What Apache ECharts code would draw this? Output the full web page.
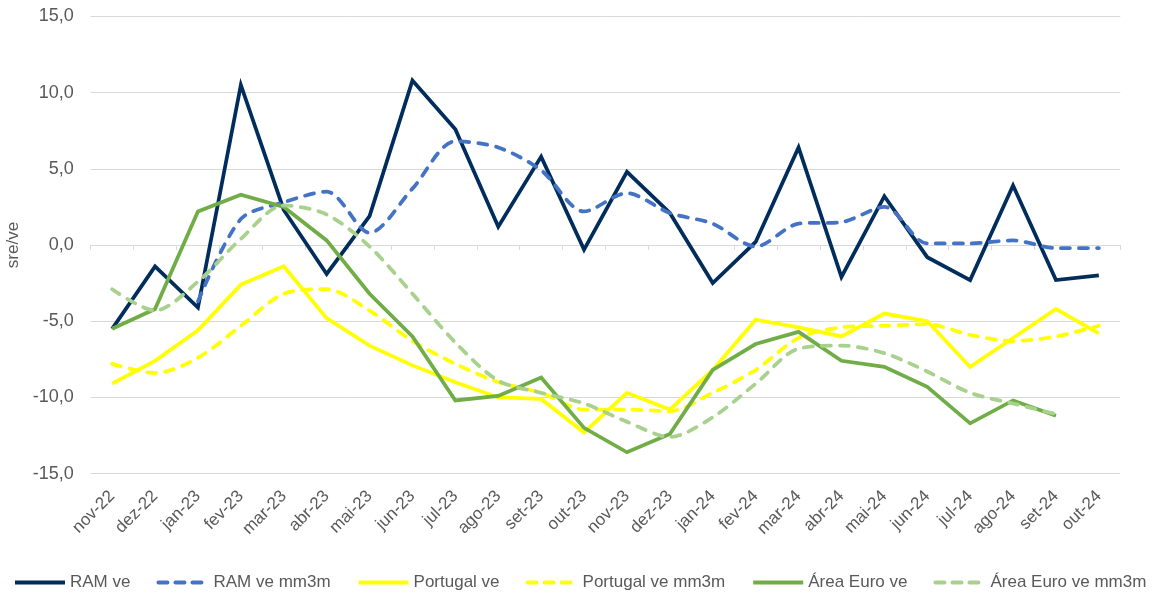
<!DOCTYPE html>
<html>
<head>
<meta charset="utf-8">
<script src="https://cdn.jsdelivr.net/npm/echarts@6/dist/echarts.min.js"></script>
<style>
html,body{margin:0;padding:0;background:#fff;}
#chart{width:1159px;height:593px;}
</style>
</head>
<body>
<div id="chart"></div>
<script>
const categories = ['nov-22','dez-22','jan-23','fev-23','mar-23','abr-23','mai-23','jun-23','jul-23','ago-23','set-23','out-23','nov-23','dez-23','jan-24','fev-24','mar-24','abr-24','mai-24','jun-24','jul-24','ago-24','set-24','out-24'];

const ramVe = [-5.5,-1.4,-4.1,10.5,2.3,-1.9,1.9,10.8,7.6,1.2,5.8,-0.3,4.8,2.1,-2.5,0.2,6.4,-2.1,3.2,-0.8,-2.3,3.9,-2.3,-2.0];
const ramMm3m = [null,null,-3.7,1.7,2.8,3.5,0.8,3.7,6.8,6.4,4.9,2.2,3.4,2.1,1.4,-0.1,1.4,1.5,2.5,0.1,0.1,0.3,-0.2,-0.2];
const portugalVe = [-9.1,-7.6,-5.6,-2.6,-1.4,-4.8,-6.6,-7.9,-9.0,-10.0,-10.1,-12.3,-9.7,-10.8,-8.2,-4.9,-5.4,-6.0,-4.5,-5.0,-8.0,-6.1,-4.2,-5.8];
const portugalMm3m = [-7.8,-8.4,-7.4,-5.3,-3.2,-2.9,-4.3,-6.3,-7.8,-9.0,-9.7,-10.8,-10.8,-10.9,-9.7,-8.2,-6.1,-5.4,-5.3,-5.2,-5.9,-6.3,-6.0,-5.3];
const euroVe = [-5.5,-4.2,2.2,3.3,2.5,0.3,-3.2,-6.0,-10.2,-9.9,-8.7,-12.0,-13.6,-12.4,-8.2,-6.5,-5.7,-7.6,-8.0,-9.3,-11.7,-10.2,-11.2,null];
const euroMm3m = [-2.9,-4.3,-2.4,0.4,2.6,2.0,-0.1,-3.2,-6.4,-8.9,-9.7,-10.4,-11.6,-12.6,-11.3,-9.1,-6.8,-6.6,-7.1,-8.3,-9.7,-10.4,-11.1,null];

const yTicks = {min: -15, max: 15, interval: 5};

const fmt = v => v.toFixed(1).replace('.', ',');
const gray = '#595959';
const font = 'Arial, "Liberation Sans", sans-serif';

const seriesDefs = [
  {name: 'RAM ve', data: ramVe, color: '#002D5C', dashed: false},
  {name: 'RAM ve mm3m', data: ramMm3m, color: '#4472C4', dashed: true},
  {name: 'Portugal ve', data: portugalVe, color: '#FFFF00', dashed: false},
  {name: 'Portugal ve mm3m', data: portugalMm3m, color: '#FFFF00', dashed: true},
  {name: 'Área Euro ve', data: euroVe, color: '#70AD47', dashed: false},
  {name: 'Área Euro ve mm3m', data: euroMm3m, color: '#A9D18E', dashed: true}
];

function line(d) {
  return {
    name: d.name, type: 'line', data: d.data, xAxisIndex: 0,
    symbol: 'none', showSymbol: false,
    smooth: d.dashed ? 0.3 : false,
    connectNulls: false,
    lineStyle: d.dashed
      ? {color: d.color, width: 3.75, type: [9, 9], cap: 'round'}
      : {color: d.color, width: 3.75, cap: 'butt', join: 'miter'},
    itemStyle: {color: d.color},
    emphasis: {disabled: true},
    animation: false
  };
}

const chart = echarts.init(document.getElementById('chart'), null, {renderer: 'canvas'});
chart.setOption({
  backgroundColor: '#ffffff',
  animation: false,
  textStyle: {fontFamily: font},
  grid: {left: 90.7, right: 38.7, top: 16.4, bottom: 119.4, outerBoundsMode: 'none', containLabel: false},
  legend: {
    top: 569, left: 8,
    itemWidth: 50, itemHeight: 14, itemGap: 26,
    itemStyle: {opacity: 0, borderWidth: 0},
    textStyle: {fontSize: 17, color: gray, fontFamily: font},
    data: seriesDefs.map(d => ({
      name: d.name,
      lineStyle: d.dashed
        ? {color: d.color, width: 4, type: [9, 8], cap: 'round'}
        : {color: d.color, width: 4, type: 'solid', cap: 'butt'}
    }))
  },
  xAxis: [
    {
      type: 'category', data: categories, boundaryGap: true, position: 'bottom',
      axisLine: {show: false, onZero: false},
      axisTick: {show: false},
      axisLabel: {rotate: 45, margin: 20, fontSize: 17, color: gray, fontFamily: font, interval: 0}
    },
    {
      type: 'category', data: categories, boundaryGap: true, position: 'bottom',
      axisLine: {show: true, onZero: true, lineStyle: {color: '#d9d9d9', width: 1}},
      axisTick: {show: true, length: 5, lineStyle: {color: '#d9d9d9'}, interval: 0},
      axisLabel: {show: false}
    }
  ],
  yAxis: {
    type: 'value', min: yTicks.min, max: yTicks.max, interval: yTicks.interval,
    name: 'sre/ve', nameLocation: 'middle', nameGap: 60,
    nameTextStyle: {fontSize: 17, color: gray, fontFamily: font},
    axisLine: {show: false}, axisTick: {show: false},
    axisLabel: {formatter: fmt, fontSize: 18, color: gray, margin: 17, fontFamily: font},
    splitLine: {lineStyle: {color: '#d9d9d9', width: 1}}
  },
  series: seriesDefs.map(line)
});
</script>
</body>
</html>
